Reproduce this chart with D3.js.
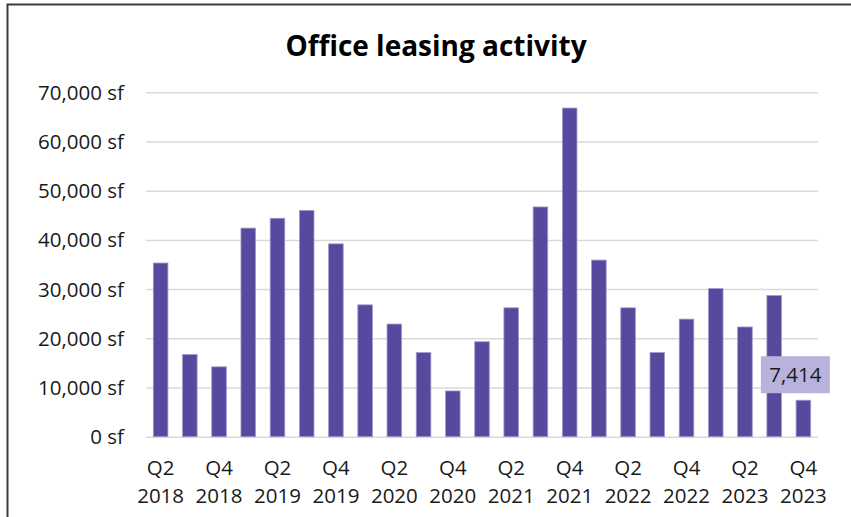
<!DOCTYPE html>
<html>
<head>
<meta charset="utf-8">
<script src="https://cdn.jsdelivr.net/npm/d3@7"></script>
<style>
  body { margin: 0; background: #fff; }
  svg text { font-family: "Open Sans", sans-serif; }
</style>
</head>
<body>
<svg id="chart" width="851" height="517"></svg>
<script>
// Quarters Q2 2018 .. Q4 2023
const quarters = ['Q2 2018', 'Q3 2018', 'Q4 2018', 'Q1 2019', 'Q2 2019', 'Q3 2019', 'Q4 2019',
    'Q1 2020', 'Q2 2020', 'Q3 2020', 'Q4 2020', 'Q1 2021', 'Q2 2021', 'Q3 2021', 'Q4 2021',
    'Q1 2022', 'Q2 2022', 'Q3 2022', 'Q4 2022', 'Q1 2023', 'Q2 2023', 'Q3 2023', 'Q4 2023'];
const leasedSf = [35300, 16700, 14200, 42400, 44400, 46000, 39200, 26800, 22900, 17100, 9300,
    19300, 26200, 46700, 66800, 35900, 26200, 17100, 23900, 30100, 22300, 28700, 7414];
const yTicks = [0, 10000, 20000, 30000, 40000, 50000, 60000, 70000];
const shownLabels = ['Q2 2018', 'Q4 2018', 'Q2 2019', 'Q4 2019', 'Q2 2020', 'Q4 2020',
    'Q2 2021', 'Q4 2021', 'Q2 2022', 'Q4 2022', 'Q2 2023', 'Q4 2023'];

const svg = d3.select('#chart');
const margin = { left: 146, right: 33, top: 92.3, bottom: 80.3 };
const width = 851, height = 517;

// border of the chart area (runs off the right and bottom)
svg.append('path')
    .attr('d', 'M7.5,520 V4.5 H860')
    .attr('fill', 'none')
    .attr('stroke', '#3a3a3a')
    .attr('stroke-width', 2);

svg.append('text')
    .attr('x', 436)
    .attr('y', 56)
    .attr('text-anchor', 'middle')
    .attr('font-size', '28px')
    .attr('font-weight', 700)
    .attr('fill', '#000')
    .text('Office leasing activity');

const x = d3.scaleBand()
    .domain(quarters)
    .range([margin.left, width - margin.right])
    .paddingInner(0.5)
    .paddingOuter(0.25);

const y = d3.scaleLinear()
    .domain([0, 70000])
    .range([height - margin.bottom, margin.top]);

// gridlines + y labels
const yAxis = d3.axisLeft(y)
    .tickValues(yTicks)
    .tickSize(-(width - margin.right - margin.left))
    .tickPadding(22)
    .tickFormat(d => d3.format(',')(d) + ' sf');

const gy = svg.append('g')
    .attr('transform', `translate(${margin.left},0)`)
    .call(yAxis);
gy.select('.domain').remove();
gy.selectAll('.tick line')
    .attr('stroke', '#d9d9d9')
    .attr('stroke-width', 1.5);
gy.selectAll('.tick text')
    .attr('font-size', '20.5px')
    .attr('fill', '#1a1a1a')
    .attr('dy', '0.34em');

// bars
svg.append('g')
    .selectAll('rect')
    .data(leasedSf)
    .enter()
    .append('rect')
    .attr('x', (d, i) => x(quarters[i]))
    .attr('y', d => y(d))
    .attr('width', x.bandwidth())
    .attr('height', d => y(0) - y(d))
    .attr('fill', '#574a9e')
    .attr('stroke', '#a39bcf')
    .attr('stroke-width', 0.8);

// x labels, two lines
const gx = svg.append('g')
    .attr('transform', `translate(0,${y(0)})`)
    .call(d3.axisBottom(x).tickValues(shownLabels).tickSize(0).tickFormat(''));
gx.select('.domain').remove();
gx.selectAll('.tick').each(function(d) {
    const parts = d.split(' ');
    const t = d3.select(this).append('text')
        .attr('text-anchor', 'middle')
        .attr('font-size', '20.5px')
        .attr('fill', '#1a1a1a');
    t.append('tspan').attr('x', 0).attr('y', 38).text(parts[0]);
    t.append('tspan').attr('x', 0).attr('y', 66).text(parts[1]);
});

// callout on the latest quarter
const lastQ = quarters[quarters.length - 1];
const lastV = leasedSf[leasedSf.length - 1];
const cx = x(lastQ) + x.bandwidth() / 2 - 8;
const boxW = 69, boxH = 37;
const boxBottom = y(lastV) - 7;
svg.append('rect')
    .attr('x', cx - boxW / 2)
    .attr('y', boxBottom - boxH)
    .attr('width', boxW)
    .attr('height', boxH)
    .attr('fill', '#b8b2dd');
svg.append('text')
    .attr('x', cx)
    .attr('y', boxBottom - boxH / 2)
    .attr('dy', '0.36em')
    .attr('text-anchor', 'middle')
    .attr('font-size', '20.5px')
    .attr('fill', '#1a1a1a')
    .text(d3.format(',')(lastV));
</script>
</body>
</html>
